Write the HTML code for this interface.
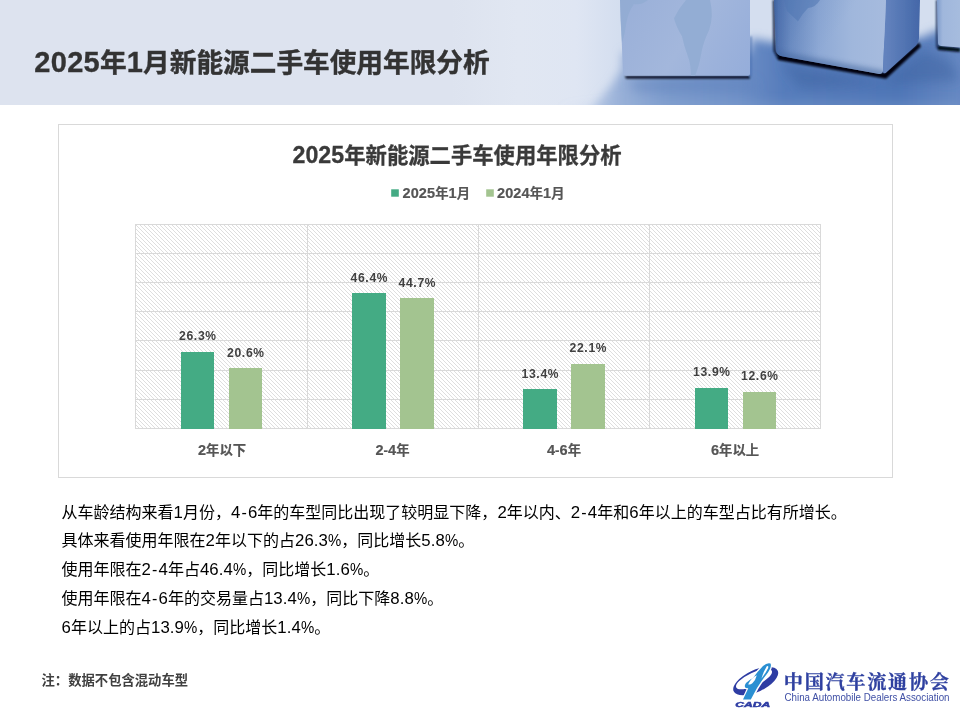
<!DOCTYPE html>
<html lang="zh-CN">
<head>
<meta charset="utf-8">
<title>2025年1月新能源二手车使用年限分析</title>
<style>
html,body{margin:0;padding:0;background:#fff;}
body{width:960px;height:720px;position:relative;overflow:hidden;font-family:"Liberation Sans","Noto Sans CJK SC",sans-serif;color:#000;}
.abs{position:absolute;white-space:nowrap;}
#hdr{position:absolute;left:0;top:0;width:960px;height:104.9px;overflow:hidden;}
#title{left:34.3px;top:41.6px;font-size:26.67px;line-height:40px;font-weight:bold;color:#333;-webkit-text-stroke:0.4px #333;}
#title b{font-size:29px;letter-spacing:0.3px;-webkit-text-stroke:0.3px #333;}
#chart{position:absolute;left:0;top:0;width:960px;height:720px;}
b{font-weight:inherit;}
.ct{left:0;width:914px;text-align:center;top:140px;font-size:21.33px;line-height:30px;font-weight:bold;color:#3a3a3a;-webkit-text-stroke:0.3px #3a3a3a;}
.ct b{font-size:23.2px;letter-spacing:0.06px;}
.lg{font-size:13.33px;line-height:20px;font-weight:bold;color:#555;top:183px;-webkit-text-stroke:0.2px #555;}
.lg b{font-size:14.5px;letter-spacing:0.1px;}
.dl{font-size:12px;line-height:16px;font-weight:bold;color:#404040;width:60px;text-align:center;letter-spacing:0;}
.dl b{font-size:12.2px;letter-spacing:0.65px;}
.cl{-webkit-text-stroke:0.2px #555;font-size:13.33px;line-height:20px;font-weight:bold;color:#555;width:100px;text-align:center;top:440px;}
.cl b{font-size:14.5px;letter-spacing:0.1px;}
.body{left:61.5px;font-size:16px;line-height:28px;color:#000;}
.body b{font-size:16.8px;letter-spacing:0.1px;}
.body u{text-decoration:none;font-size:16.8px;display:inline-block;width:13.3px;transform:scaleX(0.89);transform-origin:0 50%;}
.body i{font-style:normal;margin:0 1.1px;}
#note{left:41.5px;top:671px;font-size:13.33px;line-height:20px;font-weight:bold;color:#404040;}
</style>
</head>
<body>
<div id="hdr">
<svg width="960" height="105" viewBox="0 0 960 104" preserveAspectRatio="none" style="display:block">
<defs>
<linearGradient id="bg" x1="0" y1="0" x2="960" y2="0" gradientUnits="userSpaceOnUse">
<stop offset="0" stop-color="#dde3ef"/>
<stop offset="0.47" stop-color="#dde3ef"/>
<stop offset="0.54" stop-color="#e1e7f2"/>
<stop offset="0.60" stop-color="#dfe6f3"/>
<stop offset="0.645" stop-color="#d4deef"/>
<stop offset="1" stop-color="#d4deef"/>
</linearGradient>
<linearGradient id="floorH" x1="540" y1="0" x2="960" y2="0" gradientUnits="userSpaceOnUse">
<stop offset="0" stop-color="#d3ddee"/>
<stop offset="0.10" stop-color="#c8d5ea"/>
<stop offset="0.19" stop-color="#98b0d8"/>
<stop offset="0.30" stop-color="#7b9acc"/>
<stop offset="0.48" stop-color="#6c8ec6"/>
<stop offset="0.58" stop-color="#567cbb"/>
<stop offset="0.86" stop-color="#4f76b7"/>
<stop offset="1" stop-color="#6688c2"/>
</linearGradient>
<linearGradient id="floorMask" x1="0" y1="30" x2="0" y2="104" gradientUnits="userSpaceOnUse">
<stop offset="0" stop-color="#fff" stop-opacity="0"/>
<stop offset="0.15" stop-color="#fff" stop-opacity="0.3"/>
<stop offset="0.38" stop-color="#fff" stop-opacity="1"/>
<stop offset="1" stop-color="#fff" stop-opacity="1"/>
</linearGradient>
<mask id="fm"><rect x="0" y="0" width="960" height="104" fill="url(#floorMask)"/></mask>
<linearGradient id="c1" x1="620" y1="0" x2="750" y2="75" gradientUnits="userSpaceOnUse">
<stop offset="0" stop-color="#99afd8"/>
<stop offset="0.5" stop-color="#a3b7dc"/>
<stop offset="1" stop-color="#95adda"/>
</linearGradient>
<linearGradient id="c2" x1="774" y1="0" x2="886" y2="0" gradientUnits="userSpaceOnUse">
<stop offset="0" stop-color="#3e5f9b"/>
<stop offset="0.04" stop-color="#5576b2"/>
<stop offset="0.15" stop-color="#6f8fc4"/>
<stop offset="0.4" stop-color="#8ea9d5"/>
<stop offset="0.7" stop-color="#a0b7dc"/>
<stop offset="1" stop-color="#a6bbde"/>
</linearGradient>
<clipPath id="c2clip"><path d="M774,0 L886,0 L883,70 Q882,74 878,73 L783,56 Q776,55 776,49 Z"/></clipPath>
<linearGradient id="c2v" x1="774" y1="0" x2="830" y2="40" gradientUnits="userSpaceOnUse">
<stop offset="0" stop-color="#3f66a6" stop-opacity="0.4"/>
<stop offset="0.6" stop-color="#3f66a6" stop-opacity="0.08"/>
<stop offset="1" stop-color="#3f66a6" stop-opacity="0"/>
</linearGradient>
<linearGradient id="c2s" x1="886" y1="0" x2="920" y2="0" gradientUnits="userSpaceOnUse">
<stop offset="0" stop-color="#6282bd"/>
<stop offset="0.5" stop-color="#5375b3"/>
<stop offset="1" stop-color="#4467a8"/>
</linearGradient>
<linearGradient id="c3" x1="937" y1="0" x2="960" y2="0" gradientUnits="userSpaceOnUse">
<stop offset="0" stop-color="#7f9ccc"/>
<stop offset="0.25" stop-color="#a0b7dc"/>
<stop offset="1" stop-color="#a6bcde"/>
</linearGradient>
<filter id="b1" x="-20%" y="-40%" width="140%" height="180%"><feGaussianBlur stdDeviation="0.8"/></filter>
<filter id="b2" x="-50%" y="-50%" width="200%" height="200%"><feGaussianBlur stdDeviation="2.5"/></filter>
<filter id="b5" x="-10%" y="-30%" width="120%" height="160%"><feGaussianBlur stdDeviation="5"/></filter>
<filter id="b6" x="-30%" y="-30%" width="160%" height="160%"><feGaussianBlur stdDeviation="6"/></filter>
<filter id="b05" x="-5%" y="-5%" width="110%" height="110%"><feGaussianBlur stdDeviation="0.6"/></filter>
</defs>
<rect x="0" y="0" width="960" height="104" fill="url(#bg)"/>
<!-- floor -->
<path d="M578,130 L598,100 L612,84 L622,68 L622,52 L750,52 L751,38 L775,42 L920,38 L937,30 L990,30 L990,130 Z" fill="url(#floorH)" filter="url(#b5)"/>
<!-- soft shadows on floor -->
<g filter="url(#b6)">
<path d="M628,80 L752,80 L758,88 L636,90 Z" fill="#5a7eb8" opacity="0.5"/>
<path d="M780,62 L884,82 L924,50 L950,60 L960,80 L800,88 Z" fill="#3f65a2" opacity="0.55"/>
<path d="M560,110 L960,110 L960,103 L620,103 Z" fill="#9cb4d9" opacity="0.4"/>
</g>
<!-- cube shadows (dark contact) -->
<g filter="url(#b1)">
<path d="M625,75.3 L750,75.3 L750,77.8 L626,77.8 Z" fill="#02060f"/>
<path d="M775,52 L884,72 L919,42 L921,46 L886,78 L778,59.5 Z" fill="#02060f"/>
<path d="M936.5,45 L960,47.5 L960,51.5 L938,49.5 Z" fill="#040a18"/>
<path d="M774,0 L774.5,50 L778,57" stroke="#0b1b3d" stroke-width="2.4" fill="none"/>
<path d="M937,0 L937,47" stroke="#1a3160" stroke-width="2" fill="none"/>
<path d="M750.8,36 L750.8,76" stroke="#4a71b0" stroke-width="2" fill="none" opacity="0.8"/>
</g>
<!-- cube 1 -->
<g filter="url(#b05)">
<path d="M620,0 L750,0 L750,73 Q750,75 748,75 L626,75 Q623,75 623,72 Z" fill="url(#c1)"/>
<path d="M686,0 L710,0 Q714,16 709,30 Q703,42 701,54 Q699,66 695,75 L691,75 Q691,64 688,56 Q684,46 682,36 Q676,26 674,18 Q679,8 686,0 Z" fill="#90abd2" opacity="0.85"/>
<path d="M620,0 L648,0 Q642,5 634,4 Q628,12 626,24 Q625,34 622,42 L620.5,20 Z" fill="#90abd2" opacity="0.7"/>
</g>
<path d="M749.6,0 L749.6,74" stroke="#6584bd" stroke-width="1.8" fill="none" opacity="0.85" filter="url(#b05)"/>
<!-- cube 2 -->
<g filter="url(#b05)">
<path d="M774,0 L886,0 L883,70 Q882,74 878,73 L783,56 Q776,55 776,49 Z" fill="url(#c2)"/>
<path d="M774,0 L886,0 L883,70 Q882,74 878,73 L783,56 Q776,55 776,49 Z" fill="url(#c2v)"/>
<g clip-path="url(#c2clip)"><path d="M774,56 L884,76" stroke="#45689f" stroke-width="12" fill="none" opacity="0.55" filter="url(#b2)"/></g>
<path d="M886,0 L920,0 L919,38 Q919,42 916,45 L886,72 Q883,74 883,70 Z" fill="url(#c2s)"/>
<path d="M784,0 L820,0 Q816,7 808,8 Q802,14 798,21 Q792,16 787,11 Z" fill="#5076b2" opacity="0.55"/>
</g>
<!-- cube 3 -->
<g filter="url(#b05)">
<path d="M937,0 L960,0 L960,47 L941,45.5 Q938,45 938,42 Z" fill="url(#c3)"/>
</g>
</svg>
</div>
<div id="title" class="abs"><b>2025</b>年<b>1</b>月新能源二手车使用年限分析</div>

<svg id="chart" width="960" height="720" viewBox="0 0 960 720">
<defs>
<pattern id="hatch" x="135" y="224" width="4" height="4" patternUnits="userSpaceOnUse">
<rect width="4" height="4" fill="#fff"/>
<path d="M-1,-1 L5,5 M-1,3 L1,5 M3,-1 L5,1" stroke="#d5d5d5" stroke-width="0.78" fill="none"/>
</pattern>
</defs>
<rect x="58.5" y="124.5" width="834" height="353" fill="#fff" stroke="#d9d9d9" stroke-width="1"/>
<rect x="135.5" y="224.5" width="685" height="204.5" fill="url(#hatch)"/>
<g stroke="#d9d9d9" stroke-width="1" fill="none" shape-rendering="crispEdges">
<path d="M135,224.5H821 M135,253.5H821 M135,282.5H821 M135,311.5H821 M135,340.5H821 M135,370.5H821 M135,399.5H821 M135,428.5H821"/>
<path d="M135.5,224V429 M307.5,224V429 M478.5,224V429 M649.5,224V429 M820.5,224V429"/>
</g>
<g fill="#44ab84" shape-rendering="crispEdges">
<rect x="181" y="352" width="33" height="76.5"/>
<rect x="352" y="293" width="34" height="135.5"/>
<rect x="523" y="389" width="34" height="39.5"/>
<rect x="695" y="388" width="33" height="40.5"/>
</g>
<g fill="#a3c490" shape-rendering="crispEdges">
<rect x="229" y="368" width="33" height="60.5"/>
<rect x="400" y="298" width="34" height="130.5"/>
<rect x="571" y="364" width="34" height="64.5"/>
<rect x="743" y="392" width="33" height="36.5"/>
</g>
<rect x="391.2" y="189.3" width="7.6" height="7.4" fill="#44ab84"/>
<rect x="486.2" y="189.3" width="7.6" height="7.4" fill="#a3c490"/>
</svg>
<div class="abs ct"><b>2025</b>年新能源二手车使用年限分析</div>
<div class="abs lg" style="left:402.5px;"><b>2025</b>年<b>1</b>月</div>
<div class="abs lg" style="left:497px;"><b>2024</b>年<b>1</b>月</div>
<div class="abs dl" style="left:167.5px;top:328px;"><b>26.3</b>%</div>
<div class="abs dl" style="left:215.5px;top:345px;"><b>20.6</b>%</div>
<div class="abs dl" style="left:339px;top:269.5px;"><b>46.4</b>%</div>
<div class="abs dl" style="left:387px;top:274.5px;"><b>44.7</b>%</div>
<div class="abs dl" style="left:510px;top:366px;"><b>13.4</b>%</div>
<div class="abs dl" style="left:558px;top:340px;"><b>22.1</b>%</div>
<div class="abs dl" style="left:681.5px;top:364px;"><b>13.9</b>%</div>
<div class="abs dl" style="left:729.5px;top:368px;"><b>12.6</b>%</div>
<div class="abs cl" style="left:172px;"><b>2</b>年以下</div>
<div class="abs cl" style="left:342.5px;"><b>2</b>-<b>4</b>年</div>
<div class="abs cl" style="left:514px;"><b>4</b>-<b>6</b>年</div>
<div class="abs cl" style="left:685px;"><b>6</b>年以上</div>

<div class="abs body" style="top:498.7px;">从车龄结构来看<b>1</b>月份，<b>4</b><i>-</i><b>6</b>年的车型同比出现了较明显下降，<b>2</b>年以内、<b>2</b><i>-</i><b>4</b>年和<b>6</b>年以上的车型占比有所增长。</div>
<div class="abs body" style="top:527.4px;">具体来看使用年限在<b>2</b>年以下的占<b>26.3</b><u>%</u>，同比增长<b>5.8</b><u>%</u>。</div>
<div class="abs body" style="top:556.1px;">使用年限在<b>2</b><i>-</i><b>4</b>年占<b>46.4</b><u>%</u>，同比增长<b>1.6</b><u>%</u>。</div>
<div class="abs body" style="top:584.8px;">使用年限在<b>4</b><i>-</i><b>6</b>年的交易量占<b>13.4</b><u>%</u>，同比下降<b>8.8</b><u>%</u>。</div>
<div class="abs body" style="top:613.5px;"><b>6</b>年以上的占<b>13.9</b><u>%</u>，同比增长<b>1.4</b><u>%</u>。</div>
<div id="note" class="abs">注：数据不包含混动车型</div>

<svg id="logo" class="abs" style="left:0;top:640px;" width="960" height="80" viewBox="0 640 960 80">
<defs><filter id="lb" x="-5%" y="-10%" width="110%" height="120%"><feGaussianBlur stdDeviation="0.5"/></filter></defs>
<g filter="url(#lb)">
<g transform="rotate(-25 755.7 681.1)">
<path fill="#2e3ca3" fill-rule="evenodd" d="M731.4,681.1 a24.3,10.8 0 1,0 48.6,0 a24.3,10.8 0 1,0 -48.6,0 Z M735.4,678.6 a19.6,6.6 0 1,1 39.2,0 a19.6,6.6 0 1,1 -39.2,0 Z"/>
</g>
<path fill="#fff" d="M741.5,700 L752.5,700 L758.5,688.5 Q764,680 769.5,672.5 Q773.5,666 771.5,662.5 Q767,661 762,665 Q757,670 752,677 Q747.5,679 744.5,682.5 Q741.5,686.5 745,689 L746.5,689.2 Z"/>
<path fill="#2b8fd2" d="M743,699.5 L750.8,699.5 L757,688 Q762,680 768,672.5 Q772,666 770.5,663.5 Q767,662.5 763,666 Q758,671 753,678 Q749,680 746,683 Q743.5,686.5 746,688 L748.3,688.2 Z"/>
<path fill="#fff" d="M766.8,666.2 Q768.8,665.2 768.2,668 Q766,672.5 761.5,678.5 Q763.2,671.8 766.8,666.2 Z"/>
<path fill="#fff" d="M756.8,675.2 Q751,678 748.2,684.2 Q750,685.2 752.6,683 Q755.6,680 756.8,675.2 Z"/>
<text x="735.3" y="706.7" font-family='"Liberation Sans",sans-serif' font-weight="bold" font-style="italic" font-size="8" fill="#2e3ca3" stroke="#2e3ca3" stroke-width="0.5" textLength="35" lengthAdjust="spacingAndGlyphs">CADA</text>
<text x="783.8" y="688.5" font-family='"Liberation Serif","Noto Serif CJK SC",serif' font-weight="bold" font-size="19.2" fill="#2f40a0" stroke="#2f40a0" stroke-width="0.3" letter-spacing="1.67">中国汽车流通协会</text>
<text x="784.5" y="700.7" font-family='"Liberation Sans",sans-serif' font-size="10" fill="#3f4fa5" textLength="165" lengthAdjust="spacingAndGlyphs">China Automobile Dealers Association</text>
</g>
</svg>

</body>
</html>
